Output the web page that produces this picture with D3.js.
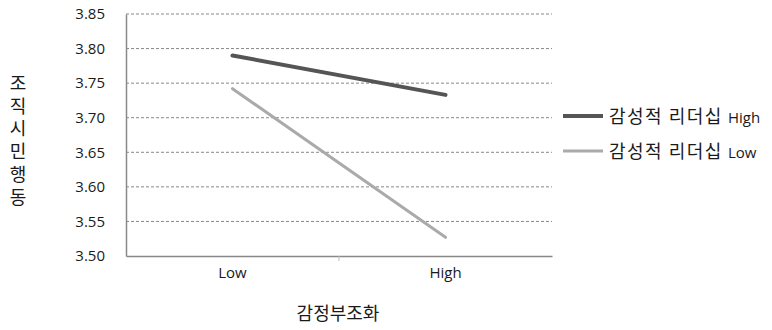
<!DOCTYPE html>
<html><head><meta charset="utf-8">
<script src="https://cdn.jsdelivr.net/npm/d3@7"></script>
<style>body{margin:0;background:#fff}</style>
</head><body>
<svg id="c" width="772" height="330"></svg>
<script>
const categories = ["Low", "High"];
const yTicks = [3.50, 3.55, 3.60, 3.65, 3.70, 3.75, 3.80, 3.85];
const seriesNames = ["감성적 리더십 High", "감성적 리더십 Low"];
const highLeadership = [3.79, 3.733];
const lowLeadership = [3.742, 3.527];
const xTitle = "감정부조화";
const yTitle = "조직시민행동";

(function () {
const svg = d3.select("#c");
const mLeft = 126, mRight = 552, mTop = 14, mBottom = 256;
const x = d3.scaleBand().domain(categories).range([mLeft, mRight]);
const y = d3.scaleLinear().domain([3.50, 3.85]).range([mBottom, mTop]);
const font = "'Open Sans','Noto Sans CJK KR',sans-serif";
const kfont = "'Noto Sans CJK KR',sans-serif";

// gridlines
svg.append("g").selectAll("line").data(yTicks.slice(1)).join("line")
  .attr("x1", mLeft).attr("x2", mRight)
  .attr("y1", d => y(d)).attr("y2", d => y(d))
  .attr("stroke", "#888").attr("stroke-width", 1).attr("stroke-dasharray", "3,2");

// y axis
const yAxis = svg.append("g").attr("transform", `translate(${mLeft},0)`)
  .call(d3.axisLeft(y).tickValues(yTicks).tickFormat(d3.format(".2f")).tickSize(0).tickPadding(21));
yAxis.select(".domain").attr("stroke", "#888").attr("stroke-width", 1.5);
yAxis.selectAll("text").attr("font-family", font).attr("font-size", 15).attr("fill", "#1a1a1a");

// x axis
const xAxis = svg.append("g").attr("transform", `translate(0,${mBottom})`)
  .call(d3.axisBottom(x).tickSize(0).tickPadding(11));
xAxis.select(".domain").attr("stroke", "#888").attr("stroke-width", 1.5);
xAxis.selectAll("text").attr("font-family", font).attr("font-size", 15).attr("fill", "#1a1a1a");
svg.append("line").attr("x1", x("High")).attr("x2", x("High"))
  .attr("y1", mBottom).attr("y2", mBottom + 5).attr("stroke", "#bbb").attr("stroke-width", 1);

// lines
const line = d3.line().x((d, i) => x(categories[i]) + x.bandwidth() / 2).y(d => y(d));
const series = [
  {name: seriesNames[0], values: highLeadership, color: "#555", width: 4},
  {name: seriesNames[1], values: lowLeadership, color: "#aaa", width: 3}
];
svg.append("g").selectAll("path").data(series).join("path")
  .attr("d", d => line(d.values)).attr("fill", "none")
  .attr("stroke", d => d.color).attr("stroke-width", d => d.width).attr("stroke-linecap", "round");

// legend
const lg = svg.append("g").selectAll("g").data(series).join("g")
  .attr("transform", (d, i) => `translate(563,${116 + i * 35})`);
lg.append("line").attr("x1", 0).attr("x2", 40).attr("y1", 0).attr("y2", 0)
  .attr("stroke", d => d.color).attr("stroke-width", d => d.width);
const lt = lg.append("text").attr("x", 46).attr("y", 7).attr("fill", "#1a1a1a");
lt.append("tspan").attr("font-family", kfont).attr("font-size", 18).attr("letter-spacing", 1.5)
  .text(d => d.name.slice(0, d.name.lastIndexOf(" ")));
lt.append("tspan").attr("dx", 5).attr("font-family", font).attr("font-size", 15)
  .text(d => d.name.slice(d.name.lastIndexOf(" ") + 1));

// x title
svg.append("text").attr("x", 338).attr("y", 320).attr("text-anchor", "middle")
  .attr("font-family", kfont).attr("font-size", 18).attr("fill", "#1a1a1a").text(xTitle);

// y title stacked vertically (upright characters)
svg.append("text").attr("x", 18).attr("y", 74)
  .style("writing-mode", "vertical-rl").style("text-orientation", "upright")
  .attr("letter-spacing", 4.8)
  .attr("font-family", kfont).attr("font-size", 18).attr("fill", "#1a1a1a").text(yTitle);
})();
</script>
</body></html>
